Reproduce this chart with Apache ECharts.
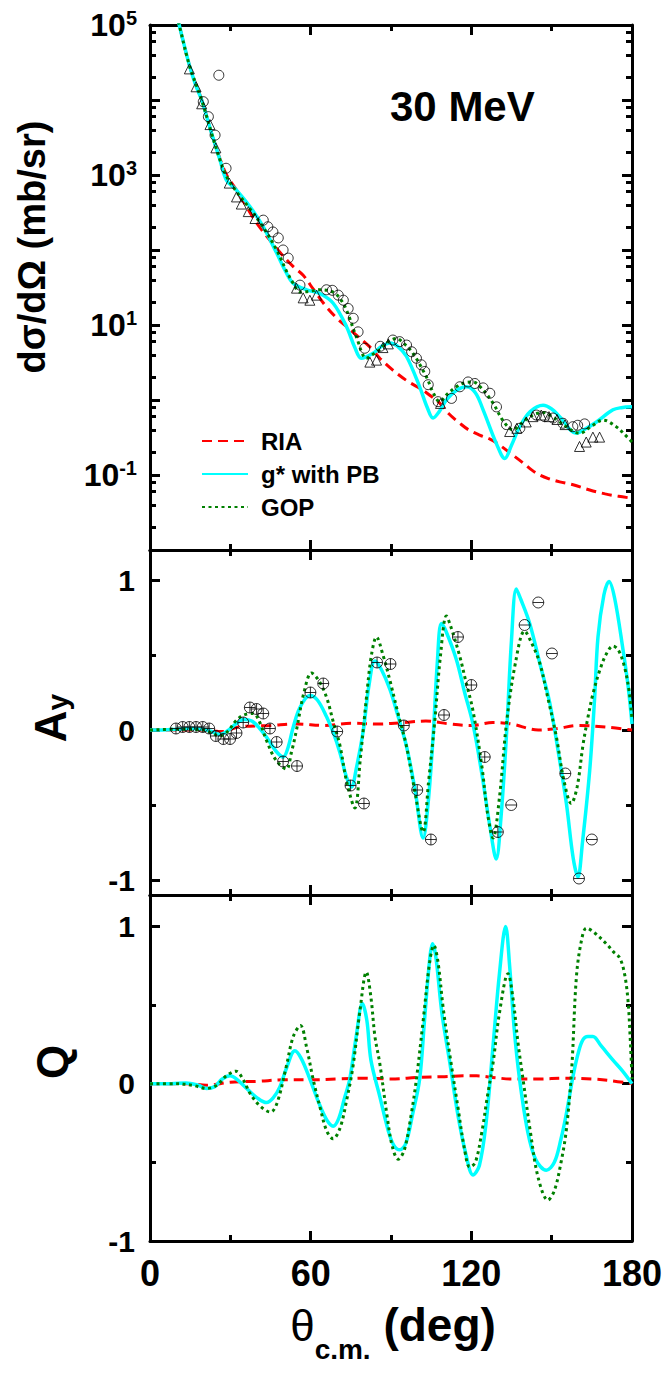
<!DOCTYPE html>
<html><head><meta charset="utf-8">
<script src="https://cdn.jsdelivr.net/npm/echarts@6/dist/echarts.min.js"></script>
<style>html,body{margin:0;padding:0;background:#fff}#c{width:671px;height:1374px}</style>
</head><body><div id="c"></div>
<script>
// ---------- tick labels ----------
const xTicks = [0, 60, 120, 180];
const logMajorTicks = [0.01, 0.1, 1, 10, 100, 1000, 10000, 100000];
const logLabelTicks = [0.1, 10, 1000, 100000];
const logMinorTicks = [0.02,0.04,0.06,0.08, 0.2,0.4,0.6,0.8, 2,4,6,8, 20,40,60,80, 200,400,600,800, 2000,4000,6000,8000, 20000,40000,60000,80000];
const pMajorTicks = [-1, 0, 1];
const pMinorTicks = [-0.5, 0.5];

// ---------- cross section (mb/sr) ----------
const dcsRIA = [[10,1.35e5],[10.9,1.0e5],[14.9,2.75e4],[19.3,1.0e4],[23,3.6e3],[26.1,1.66e3],[28.6,1.0e3],[32.3,630],[36,380],[40,224],[44.8,135],[49,89],[53.5,60],[57.2,46],[61,30],[65.9,17.4],[69.5,12.6],[73.4,9.5],[77.5,7.1],[82.1,5.1],[86,3.55],[90.7,2.5],[96,1.8],[101.9,1.35],[105,1.12],[108.2,0.91],[111.5,0.66],[115.7,0.49],[119,0.4],[123.1,0.34],[127,0.3],[130.6,0.25],[135,0.19],[139.3,0.145],[142.5,0.117],[145.5,0.1],[149,0.089],[153,0.081],[158,0.074],[164.2,0.063],[170,0.056],[175,0.052],[180,0.049]];
const dcsGstar = [[10,1.35e5],[10.9,1.0e5],[13,5.0e4],[14.9,2.75e4],[17,1.6e4],[19.3,1.0e4],[21,6.3e3],[23,3.6e3],[26.1,1.6e3],[28.6,850],[32.3,630],[37.3,380],[42.3,204],[47.3,91],[51,49],[53.5,36],[58.5,29.5],[63.4,26.3],[68.4,19.5],[73.4,9.5],[76.5,5.0],[78.9,3.6],[83.3,4.2],[86.5,5.2],[89.6,5.75],[92.5,5.2],[95.8,3.8],[100.7,1.5],[103.5,0.8],[105.7,0.575],[108,0.7],[110.7,1.0],[114.5,1.35],[118.2,1.5],[121.5,1.25],[124.4,0.74],[129.4,0.26],[132.5,0.166],[135,0.25],[138.1,0.44],[142,0.7],[146.8,0.85],[150,0.76],[153,0.6],[159.2,0.36],[162,0.4],[166.7,0.51],[172.9,0.74],[176,0.79],[180,0.81]];
const dcsGOP = [[10,1.35e5],[10.9,1.0e5],[14.9,2.75e4],[19.3,1.0e4],[23,3.6e3],[26.1,1.6e3],[28.6,955],[32.3,600],[37.3,355],[42.3,200],[47.3,100],[51,52],[53.5,36],[56,27.5],[59.5,28],[63.4,29.5],[68.4,27.5],[71,22.4],[73.4,15.8],[77.1,6.9],[80.8,3.6],[83,4.0],[85.8,4.7],[89,6.0],[92,6.6],[95,5.6],[98.2,4.2],[103.2,2.04],[106,1.2],[108.2,0.95],[111,1.2],[114.4,1.5],[117.5,1.7],[120.6,1.74],[124,1.41],[128.1,0.91],[132,0.52],[135.6,0.4],[139,0.5],[143,0.63],[146.8,0.68],[151,0.575],[155.5,0.44],[160.4,0.36],[165,0.45],[169.2,0.54],[174.1,0.44],[177,0.355],[180,0.275]];
const dcsExpCircle = [[19.9,9.5e3],[21.8,6.0e3],[24.3,3.4e3],[25.7,2.14e4],[28.4,1.23e3],[42.3,250],[44,204],[45.9,174],[47.9,145],[49.7,100],[51.6,78],[56,34],[65.9,29.5],[68.1,29],[70.3,25],[72.2,21.4],[74,16.6],[75.9,12.3],[77.7,8.1],[80.2,4.9],[86,5.2],[90.7,6.3],[93.2,6.0],[95.8,5.4],[97.7,4.4],[99.5,3.6],[101.3,2.95],[102.6,2.4],[103.9,1.6],[107.6,0.95],[112.6,1.05],[115.7,1.5],[118.8,1.74],[121.3,1.66],[124.4,1.45],[126.9,1.23],[129.4,0.81],[133.1,0.47],[138.1,0.42],[144.3,0.63],[147.4,0.6],[150.5,0.575],[154.2,0.49],[157.9,0.44],[159.7,0.46],[162.3,0.48]];
const dcsExpTriangle = [[14.7,2.6e4],[17.2,1.5e4],[19.3,8.9e3],[22.4,4.7e3],[24.6,2.3e3],[29.6,780],[32.3,510],[34.1,410],[36.7,325],[39.2,263],[54.7,31],[57.2,23],[59.7,21.4],[62.2,25],[82.1,3.2],[84.6,3.4],[87,5.0],[89,5.6],[108.5,0.9],[134.3,0.38],[137,0.42],[140.5,0.51],[143,0.6],[146.1,0.63],[149,0.6],[152,0.55],[155,0.47],[160.4,0.24],[162.9,0.275],[165.4,0.32],[167.9,0.32]];

// ---------- analyzing power Ay ----------
const ayRIA = [[0,0],[20,0],[27,-0.01],[33,0.02],[45,0.03],[55,0.04],[65,0.03],[75,0.045],[85,0.04],[95,0.05],[103,0.06],[112,0.04],[120,0.03],[128,0.05],[135,0.04],[145,0.0],[152,0.01],[160,0.03],[170,0.02],[180,0]];
const ayGstar = [[0,0],[5,0],[10,0.005],[15,0.01],[20,0.005],[23,-0.01],[26,-0.03],[29,-0.005],[32,0.04],[35,0.07],[38,0.06],[41,0.01],[44,-0.06],[47,-0.14],[49.7,-0.18],[51.5,-0.12],[53.5,0.02],[56,0.15],[59.7,0.23],[62.5,0.2],[65.9,0.09],[68.5,-0.02],[70.9,-0.15],[73.5,-0.32],[75.2,-0.38],[77,-0.26],[79.6,-0.01],[81.8,0.3],[84,0.46],[86.5,0.4],[89.6,0.27],[92.5,0.1],[95.8,-0.11],[99,-0.4],[102,-0.72],[103.8,-0.5],[105.7,-0.05],[107.3,0.45],[108.8,0.71],[110.5,0.66],[114.4,0.47],[117.5,0.25],[120.6,0.04],[124,-0.3],[127,-0.65],[129.3,-0.86],[131,-0.6],[133.1,-0.04],[135,0.6],[136.8,0.94],[138.5,0.87],[141.8,0.71],[145.5,0.45],[149.3,0.18],[152.5,-0.15],[155.5,-0.49],[158,-0.85],[159.8,-0.98],[161.5,-0.75],[164.2,-0.27],[166,0.2],[167.3,0.62],[169.5,0.9],[171.4,0.99],[173.5,0.88],[176.6,0.54],[178.5,0.3],[180,0.04]];
const ayGOP = [[0,0],[10,0.005],[20,0],[23,-0.02],[26,-0.04],[29,-0.01],[32,0.06],[35,0.1],[38.6,0.11],[41,0.05],[43.5,-0.07],[47,-0.2],[50.9,-0.26],[52.8,-0.15],[54.7,0],[57.5,0.25],[60.3,0.38],[63,0.33],[65.9,0.22],[68.5,0.05],[70.9,-0.1],[73.5,-0.35],[76.5,-0.52],[78.5,-0.2],[80.8,0.21],[82.7,0.5],[84.6,0.62],[87,0.5],[89.6,0.33],[92.5,0.12],[95.8,-0.11],[99,-0.42],[102,-0.68],[104,-0.35],[106.3,0.05],[108.5,0.5],[110.7,0.76],[112.5,0.68],[115.7,0.49],[118,0.32],[120.6,0.13],[124,-0.25],[126,-0.55],[128.1,-0.72],[130.5,-0.45],[133.1,0.04],[136.5,0.45],[139.9,0.66],[142.5,0.58],[145.5,0.45],[148.5,0.22],[151.7,-0.04],[154.5,-0.33],[157.3,-0.49],[159.5,-0.38],[161.7,-0.1],[163.5,0.08],[165.4,0.24],[168,0.4],[170.5,0.51],[172.9,0.56],[175,0.53],[177.2,0.42],[179,0.25],[180,0.07]];
const ayExp = [[9.7,0.01],[12.2,0.02],[14.7,0.02],[17.2,0.02],[19.7,0.02],[22.1,0.01],[24.6,-0.04],[27.4,-0.06],[29.9,-0.06],[32.3,-0.02],[34.8,0.05],[37.3,0.15],[39.8,0.14],[42.3,0.11],[44.8,0.01],[47.3,-0.08],[49.7,-0.21],[54.9,-0.24],[59.9,0.25],[64.7,0.31],[69.9,-0.01],[74.9,-0.37],[79.9,-0.49],[84.8,0.45],[89.8,0.44],[94.8,0.03],[99.8,-0.4],[104.9,-0.73],[109.8,0.1],[115,0.62],[120,0.3],[125,-0.18],[129.9,-0.68],[134.9,-0.5],[139.9,0.7],[145,0.85],[150.1,0.51],[155.1,-0.29],[160.2,-0.99],[165,-0.73]];

// ---------- spin rotation Q ----------
const qRIA = [[0,0],[15,0],[21,-0.01],[30,0.01],[40,0.015],[50,0.025],[60,0.025],[70,0.03],[80,0.035],[90,0.03],[100,0.04],[110,0.045],[117,0.05],[122,0.05],[128,0.04],[135,0.03],[145,0.03],[155,0.035],[165,0.03],[172,0.02],[180,0]];
const qGstar = [[0,0],[8,0],[13.4,0.005],[18,-0.01],[21.1,-0.03],[24,-0.02],[27,0.03],[29.9,0.05],[33,0.02],[36.1,-0.03],[40,-0.09],[43.5,-0.12],[46,-0.09],[48.5,-0.02],[51,0.1],[54.1,0.21],[56.5,0.16],[59.7,0.03],[63,-0.12],[66,-0.23],[68.4,-0.27],[70.5,-0.22],[72.5,-0.1],[74.6,0.03],[77,0.3],[79.3,0.51],[81,0.4],[82.5,0.15],[85.8,-0.08],[89,-0.3],[91,-0.39],[93.3,-0.42],[95.5,-0.38],[98,-0.2],[100.7,0.03],[102.5,0.4],[104.5,0.8],[105.5,0.89],[106.8,0.8],[109,0.45],[112,0.13],[115,-0.2],[118,-0.45],[120.6,-0.58],[123,-0.52],[125.5,-0.25],[128.1,0.24],[130.5,0.7],[132.8,1.0],[134.3,0.75],[136,0.35],[138,0.03],[141,-0.3],[144,-0.48],[148,-0.55],[151,-0.5],[153.5,-0.35],[155.5,-0.19],[158,0.05],[160,0.2],[161.7,0.28],[163.5,0.3],[165.4,0.3],[168.5,0.24],[172.9,0.15],[176.5,0.08],[180,0]];
const qGOP = [[0,0],[10,0],[16,-0.01],[21.1,-0.03],[25,-0.01],[28.5,0.05],[32.1,0.08],[35,0.02],[37.3,-0.06],[41,-0.14],[45,-0.18],[47.5,-0.12],[50.9,0.11],[53.5,0.3],[56.2,0.37],[58.5,0.23],[60.9,0.03],[63.5,-0.15],[66,-0.3],[68.4,-0.35],[71,-0.28],[73.5,-0.1],[75.8,0.11],[78.3,0.45],[80.8,0.71],[82.5,0.55],[84,0.3],[85.8,0.13],[88.5,-0.2],[90.5,-0.4],[92.7,-0.48],[95,-0.42],[97.5,-0.2],[99.5,0.03],[102,0.4],[104.5,0.78],[106,0.88],[107.5,0.78],[109.5,0.48],[112,0.18],[115,-0.15],[117.5,-0.42],[119.4,-0.53],[121.5,-0.5],[124,-0.3],[126,-0.08],[128.1,0.13],[130.5,0.45],[133.7,0.7],[135.5,0.55],[137.5,0.25],[139.3,0.03],[142,-0.3],[145,-0.6],[148.6,-0.74],[151,-0.68],[153.5,-0.5],[155.5,-0.29],[157.5,0.1],[159.2,0.67],[161,0.9],[163,0.99],[166,0.96],[170.4,0.89],[173,0.84],[175.4,0.8],[177.2,0.7],[178.5,0.53],[179.3,0.3],[180,0.03]];

// ---------- styles ----------
const FONT = '"Liberation Sans", Arial, sans-serif';
const NARROW = '"Liberation Sans Narrow", "Arial Narrow", "Liberation Sans", sans-serif';
const BLACK = '#000';
const AXW = 3;
const styRIA = {color:'#FF0000', width:3, type:[10,6]};
const styG = {color:'#00FFFF', width:3.5, type:'solid'};
const styGOP = {color:'#008000', width:3, type:[3,3.5]};

const grids = [
  {left:150, top:25, width:482, height:525},
  {left:150, top:550, width:482, height:345},
  {left:150, top:895, width:482, height:346}
];

function xAx(gi, pos, labels){
  return {
    type:'value', gridIndex:gi, min:0, max:180, interval:60, position:pos,
    axisLine:{show:true, onZero:false, lineStyle:{color:BLACK, width:AXW}},
    axisTick:{show:true, inside:true, length:10, lineStyle:{color:BLACK, width:AXW}},
    minorTick:{show:true, splitNumber:2, length:6, lineStyle:{color:BLACK, width:AXW}},
    splitLine:{show:false}, minorSplitLine:{show:false},
    axisLabel:{show:labels, margin:14, color:BLACK, fontFamily:NARROW, fontWeight:'bold', fontSize:36,
      customValues: xTicks}
  };
}
const xAxes = [];
for (let g=0; g<3; g++){ xAxes.push(xAx(g,'bottom', g===2)); xAxes.push(xAx(g,'top', false)); }

function logAx(pos, major){
  return {
    type:'log', logBase:10, gridIndex:0, min:0.01, max:100000, position:pos,
    axisLine:{show:major, onZero:false, lineStyle:{color:BLACK, width:AXW}},
    axisTick:{show:true, inside:true, length: major?10:6, lineStyle:{color:BLACK, width:AXW},
      customValues: major ? logMajorTicks : logMinorTicks},
    splitLine:{show:false},
    axisLabel:{show: major && pos==='left', margin:13, customValues: logLabelTicks,
      formatter: v => '{b|10}{s|' + Math.round(Math.log10(v)) + '}',
      rich:{ b:{fontFamily:FONT, fontWeight:'bold', fontSize:32, color:BLACK, lineHeight:34},
             s:{fontFamily:FONT, fontWeight:'bold', fontSize:20, color:BLACK, lineHeight:20, verticalAlign:'top'} } }
  };
}
function linAx(gi, min, max, pos, major){
  return {
    type:'value', gridIndex:gi, min:min, max:max, position:pos,
    axisLine:{show:major, onZero:false, lineStyle:{color:BLACK, width:AXW}},
    axisTick:{show:true, inside:true, length: major?10:6, lineStyle:{color:BLACK, width:AXW},
      customValues: major ? pMajorTicks : pMinorTicks},
    splitLine:{show:false},
    axisLabel:{show: major && pos==='left', margin:15, customValues: pMajorTicks,
      color:BLACK, fontFamily:FONT, fontWeight:'bold', fontSize:30}
  };
}
const yAxes = [
  logAx('left', true), logAx('left', false), logAx('right', true), logAx('right', false),
  linAx(1,-1.1,1.2,'left',true), linAx(1,-1.1,1.2,'left',false), linAx(1,-1.1,1.2,'right',true), linAx(1,-1.1,1.2,'right',false),
  linAx(2,-1,1.2,'left',true), linAx(2,-1,1.2,'left',false), linAx(2,-1,1.2,'right',true), linAx(2,-1,1.2,'right',false)
];

function line(name, data, xi, yi, sty, z){
  return {type:'line', name:name, data:data, xAxisIndex:xi, yAxisIndex:yi, smooth:0.35,
    showSymbol:false, symbol:'none', clip:true, lineStyle:sty, itemStyle:{color:sty.color}, z:z, silent:true};
}
const circleErr = 'path://M10,5A5,5,0,1,1,0,5A5,5,0,1,1,10,5ZM0,5L10,5M5,0L5,10';
const circleH = 'path://M10,5A5,5,0,1,1,0,5A5,5,0,1,1,10,5ZM0,5L10,5';
const hollow = {color:'none', borderColor:BLACK, borderWidth:1};

const series = [
  line('RIA', dcsRIA, 0, 0, styRIA, 2),
  line('g* with PB', dcsGstar, 0, 0, styG, 3),
  line('GOP', dcsGOP, 0, 0, styGOP, 4),
  {type:'scatter', data:dcsExpCircle, xAxisIndex:0, yAxisIndex:0, symbol:'circle', symbolSize:10,
    itemStyle:hollow, z:5, clip:true, silent:true},
  {type:'scatter', data:dcsExpTriangle, xAxisIndex:0, yAxisIndex:0, symbol:'triangle', symbolSize:10,
    itemStyle:hollow, z:5, clip:true, silent:true},
  line('RIA', ayRIA, 2, 4, styRIA, 2),
  line('g* with PB', ayGstar, 2, 4, styG, 3),
  line('GOP', ayGOP, 2, 4, styGOP, 4),
  {type:'scatter', data:ayExp, xAxisIndex:2, yAxisIndex:4,
    symbol: (v) => v[0] < 130 ? circleErr : circleH, symbolSize:11,
    itemStyle:hollow, z:5, clip:true, silent:true},
  line('RIA', qRIA, 4, 8, styRIA, 2),
  line('g* with PB', qGstar, 4, 8, styG, 3),
  line('GOP', qGOP, 4, 8, styGOP, 4)
];

const option = {
  animation:false,
  backgroundColor:'#fff',
  grid: grids,
  xAxis: xAxes,
  yAxis: yAxes,
  legend:{
    data:['RIA','g* with PB','GOP'], orient:'vertical', left:196, top:424,
    itemWidth:46, itemHeight:24, itemGap:9, selectedMode:false,
    itemStyle:{opacity:0},
    textStyle:{fontFamily:FONT, fontWeight:'bold', fontSize:24, color:BLACK, padding:[0,0,0,8]}
  },
  series: series,
  graphic: [
    {type:'text', x:390, y:106, silent:true, style:{text:'30 MeV', fontFamily:FONT, fontWeight:'bold', fontSize:42, fill:BLACK, textAlign:'left', textVerticalAlign:'middle'}},
    {type:'text', x:32, y:247, rotation:Math.PI/2, silent:true, style:{text:'dσ/dΩ (mb/sr)', fontFamily:FONT, fontWeight:'bold', fontSize:38, fill:BLACK, textAlign:'center', textVerticalAlign:'middle'}},
    {type:'text', x:50, y:718, rotation:Math.PI/2, silent:true, style:{text:'{a|A}{s|y}', textAlign:'center', textVerticalAlign:'middle',
      rich:{a:{fontFamily:FONT, fontWeight:'bold', fontSize:44, fill:BLACK, lineHeight:44}, s:{fontFamily:FONT, fontWeight:'bold', fontSize:30, fill:BLACK, lineHeight:44, verticalAlign:'bottom'}}}},
    {type:'text', x:52, y:1062, rotation:Math.PI/2, silent:true, style:{text:'Q', fontFamily:FONT, fontWeight:'bold', fontSize:44, fill:BLACK, textAlign:'center', textVerticalAlign:'middle'}},
    {type:'text', x:393, y:1325, silent:true, style:{text:'{t|θ}{s|c.m.}{r| (deg)}', textAlign:'center', textVerticalAlign:'middle',
      rich:{t:{fontFamily:FONT, fontSize:44, fill:BLACK, lineHeight:48}, s:{fontFamily:NARROW, fontWeight:'bold', fontSize:28, fill:BLACK, lineHeight:48, verticalAlign:'bottom', padding:[0,0,-14,0]}, r:{fontFamily:NARROW, fontWeight:'bold', fontSize:46, fill:BLACK, lineHeight:48}}}}
  ]
};
const chart = echarts.init(document.getElementById('c'), null, {renderer:'svg'});
chart.setOption(option);
</script>
</body></html>
